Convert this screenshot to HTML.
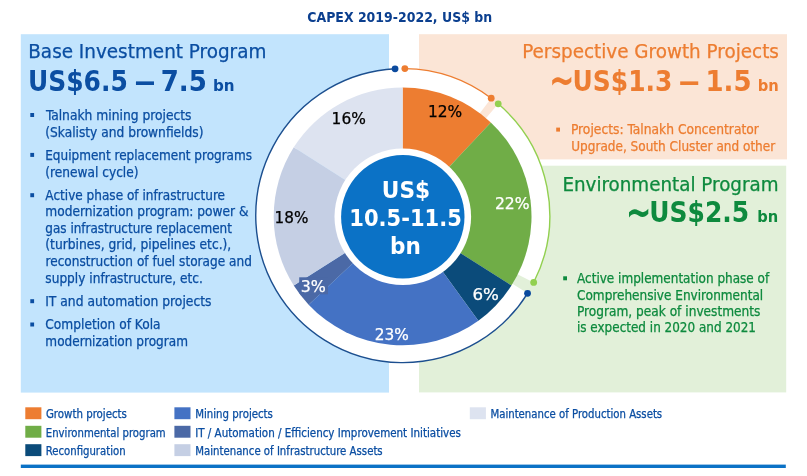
<!DOCTYPE html>
<html><head><meta charset="utf-8"><title>CAPEX 2019-2022</title>
<style>
html,body{margin:0;padding:0;background:#fff}
svg{display:block}
text{stroke-width:.25px}
text{font-family:"DejaVu Sans Condensed","DejaVu Sans","Liberation Sans",sans-serif;font-stretch:condensed;white-space:pre}
</style></head><body>
<svg width="807" height="476" viewBox="0 0 807 476">
<rect x="20.8" y="34.2" width="368.2" height="358.4" fill="#c2e4fd"/>
<rect x="419" y="34.2" width="368" height="125.2" fill="#fbe5d6"/>
<rect x="419" y="165.7" width="367.2" height="226.7" fill="#e2f0d9"/>
<path d="M395.06 68.80A147.0 147.0 0 0 1 491.22 98.20L477.92 115.85A124.9 124.9 0 0 0 396.21 90.87Z" fill="#fff"/>
<path d="M498.22 103.82A147.0 147.0 0 0 1 533.67 282.45L513.99 272.40A124.9 124.9 0 0 0 483.87 120.63Z" fill="#fff"/>
<path d="M527.55 293.28A147.0 147.0 0 1 1 395.06 68.80L396.21 90.87A124.9 124.9 0 1 0 508.79 281.60Z" fill="#fff"/>
<path d="M402.6 216.4L402.60 87.50A128.9 128.9 0 0 1 490.84 122.44Z" fill="#ed7d31"/>
<path d="M402.6 216.4L490.84 122.44A128.9 128.9 0 0 1 511.43 285.47Z" fill="#70ad47"/>
<path d="M402.6 216.4L511.43 285.47A128.9 128.9 0 0 1 478.37 320.68Z" fill="#0b4b7a"/>
<path d="M402.6 216.4L478.37 320.68A128.9 128.9 0 0 1 308.64 304.64Z" fill="#4472c4"/>
<path d="M402.6 216.4L308.64 304.64A128.9 128.9 0 0 1 293.77 285.47Z" fill="#4b69a6"/>
<path d="M402.6 216.4L293.77 285.47A128.9 128.9 0 0 1 293.77 147.33Z" fill="#c5cfe4"/>
<path d="M402.6 216.4L293.77 147.33A128.9 128.9 0 0 1 402.60 87.50Z" fill="#dde3f0"/>
<path d="M404.85 68.62A147.0 147.0 0 0 1 491.22 98.20" fill="none" stroke="#ed7d31" stroke-width="1.4"/>
<path d="M498.22 103.82A147.0 147.0 0 0 1 533.67 282.45" fill="none" stroke="#92d050" stroke-width="1.4"/>
<path d="M527.55 293.28A147.0 147.0 0 1 1 395.06 68.80" fill="none" stroke="#1c4f8f" stroke-width="1.4"/>
<circle cx="404.85" cy="68.62" r="3.4" fill="#ed7d31"/>
<circle cx="491.22" cy="98.20" r="3.4" fill="#ed7d31"/>
<circle cx="498.22" cy="103.82" r="3.4" fill="#92d050"/>
<circle cx="533.67" cy="282.45" r="3.4" fill="#92d050"/>
<circle cx="527.55" cy="293.28" r="3.4" fill="#0b4a9e"/>
<circle cx="395.06" cy="68.80" r="3.4" fill="#0b4a9e"/>
<circle cx="402.8" cy="216.8" r="68.3" fill="#fff"/>
<circle cx="402.8" cy="216.8" r="61.7" fill="#0b72c6"/>
<clipPath id="pc"><circle cx="402.6" cy="216.4" r="128.9"/></clipPath>
<rect x="299.2" y="277.3" width="28.8" height="17" fill="#4b69a6" clip-path="url(#pc)"/>
<rect x="30.3" y="113.0" width="3.8" height="4" fill="#0b4ea2"/>
<rect x="30.3" y="152.9" width="3.8" height="4" fill="#0b4ea2"/>
<rect x="30.3" y="193.2" width="3.8" height="4" fill="#0b4ea2"/>
<rect x="30.3" y="299.2" width="3.8" height="4" fill="#0b4ea2"/>
<rect x="30.3" y="322.5" width="3.8" height="4" fill="#0b4ea2"/>
<rect x="556.2" y="127.6" width="3.8" height="4" fill="#ed7d31"/>
<rect x="563.2" y="276.3" width="3.8" height="4" fill="#0e8a3e"/>
<rect x="25.3" y="407.3" width="16.1" height="11.9" fill="#ed7d31"/>
<rect x="25.3" y="425.8" width="16.1" height="11.9" fill="#70ad47"/>
<rect x="25.3" y="444.2" width="16.1" height="11.9" fill="#0b4b7a"/>
<rect x="174.4" y="407.3" width="16.1" height="11.9" fill="#4472c4"/>
<rect x="174.4" y="425.8" width="16.1" height="11.9" fill="#4b69a6"/>
<rect x="174.4" y="444.2" width="16.1" height="11.9" fill="#c5cfe4"/>
<rect x="469.8" y="407.3" width="16.1" height="11.9" fill="#dde3f0"/>
<rect x="20.8" y="464.6" width="765" height="3.4" fill="#0b72c6"/>
<text x="307.24" y="22.3" font-size="13.7" fill="#0b3f8f" font-weight="bold" textLength="184.95" lengthAdjust="spacingAndGlyphs">CAPEX 2019-2022, US$ bn</text>
<text x="381.85" y="198.2" font-size="23.5" fill="#fff" font-weight="bold" textLength="48.24" lengthAdjust="spacingAndGlyphs">US$</text>
<text x="349.31" y="225.9" font-size="23.5" fill="#fff" font-weight="bold" textLength="112.59" lengthAdjust="spacingAndGlyphs">10.5-11.5</text>
<text x="390.01" y="253.5" font-size="23.5" fill="#fff" font-weight="bold" textLength="30.82" lengthAdjust="spacingAndGlyphs">bn</text>
<text x="427.90" y="117.3" font-size="16" fill="#000" stroke="#000" textLength="34.21" lengthAdjust="spacingAndGlyphs">12%</text>
<text x="331.60" y="124.1" font-size="16" fill="#000" stroke="#000" textLength="34.21" lengthAdjust="spacingAndGlyphs">16%</text>
<text x="494.92" y="208.8" font-size="16" fill="#fff" stroke="#fff" textLength="34.70" lengthAdjust="spacingAndGlyphs">22%</text>
<text x="274.62" y="222.6" font-size="16" fill="#000" stroke="#000" textLength="33.77" lengthAdjust="spacingAndGlyphs">18%</text>
<text x="300.70" y="292" font-size="16" fill="#fff" stroke="#fff" textLength="25.13" lengthAdjust="spacingAndGlyphs">3%</text>
<text x="472.44" y="299.8" font-size="16" fill="#fff" stroke="#fff" textLength="26.43" lengthAdjust="spacingAndGlyphs">6%</text>
<text x="374.74" y="339.5" font-size="16" fill="#fff" stroke="#fff" textLength="34.06" lengthAdjust="spacingAndGlyphs">23%</text>
<text x="28.26" y="58.3" font-size="20" fill="#0b4ea2" stroke="#0b4ea2" textLength="238.07" lengthAdjust="spacingAndGlyphs">Base Investment Program</text>
<text x="28.04" y="90.5" font-size="27.6" fill="#0b4ea2" font-weight="bold" textLength="99.77" lengthAdjust="spacingAndGlyphs">US$6.5</text>
<text x="133.59" y="90.5" font-size="27.6" fill="#0b4ea2" font-weight="bold" textLength="22.93" lengthAdjust="spacingAndGlyphs">–</text>
<text x="160.77" y="90.5" font-size="27.6" fill="#0b4ea2" font-weight="bold" textLength="46.05" lengthAdjust="spacingAndGlyphs">7.5</text>
<text x="212.98" y="90.5" font-size="16" fill="#0b4ea2" font-weight="bold" textLength="21.63" lengthAdjust="spacingAndGlyphs">bn</text>
<text x="45.90" y="119.8" font-size="13.3" fill="#0b4ea2" stroke="#0b4ea2" textLength="145.59" lengthAdjust="spacingAndGlyphs">Talnakh mining projects</text>
<text x="45.28" y="136.5" font-size="13.3" fill="#0b4ea2" stroke="#0b4ea2" textLength="158.17" lengthAdjust="spacingAndGlyphs">(Skalisty and brownfields)</text>
<text x="45.24" y="159.7" font-size="13.3" fill="#0b4ea2" stroke="#0b4ea2" textLength="206.79" lengthAdjust="spacingAndGlyphs">Equipment replacement programs</text>
<text x="45.28" y="176.5" font-size="13.3" fill="#0b4ea2" stroke="#0b4ea2" textLength="93.28" lengthAdjust="spacingAndGlyphs">(renewal cycle)</text>
<text x="45.35" y="200.0" font-size="13.3" fill="#0b4ea2" stroke="#0b4ea2" textLength="179.69" lengthAdjust="spacingAndGlyphs">Active phase of infrastructure</text>
<text x="45.38" y="216.4" font-size="13.3" fill="#0b4ea2" stroke="#0b4ea2" textLength="203.10" lengthAdjust="spacingAndGlyphs">modernization program: power &amp;</text>
<text x="45.35" y="232.8" font-size="13.3" fill="#0b4ea2" stroke="#0b4ea2" textLength="186.50" lengthAdjust="spacingAndGlyphs">gas infrastructure replacement</text>
<text x="45.27" y="249.4" font-size="13.3" fill="#0b4ea2" stroke="#0b4ea2" textLength="186.00" lengthAdjust="spacingAndGlyphs">(turbines, grid, pipelines etc.),</text>
<text x="45.49" y="266.2" font-size="13.3" fill="#0b4ea2" stroke="#0b4ea2" textLength="206.36" lengthAdjust="spacingAndGlyphs">reconstruction of fuel storage and</text>
<text x="45.34" y="282.9" font-size="13.3" fill="#0b4ea2" stroke="#0b4ea2" textLength="157.53" lengthAdjust="spacingAndGlyphs">supply infrastructure, etc.</text>
<text x="45.21" y="306.0" font-size="13.3" fill="#0b4ea2" stroke="#0b4ea2" textLength="166.24" lengthAdjust="spacingAndGlyphs">IT and automation projects</text>
<text x="45.33" y="329.3" font-size="13.3" fill="#0b4ea2" stroke="#0b4ea2" textLength="115.24" lengthAdjust="spacingAndGlyphs">Completion of Kola</text>
<text x="45.39" y="346.2" font-size="13.3" fill="#0b4ea2" stroke="#0b4ea2" textLength="142.55" lengthAdjust="spacingAndGlyphs">modernization program</text>
<text x="522.21" y="58.2" font-size="20" fill="#ed7d31" stroke="#ed7d31" textLength="256.71" lengthAdjust="spacingAndGlyphs">Perspective Growth Projects</text>
<text x="549.05" y="95.2" font-size="43" fill="#ed7d31" font-weight="bold" textLength="25.54" lengthAdjust="spacingAndGlyphs">~</text>
<text x="572.54" y="90.5" font-size="27.6" fill="#ed7d31" font-weight="bold" textLength="99.82" lengthAdjust="spacingAndGlyphs">US$1.3</text>
<text x="677.69" y="90.5" font-size="27.6" fill="#ed7d31" font-weight="bold" textLength="22.93" lengthAdjust="spacingAndGlyphs">–</text>
<text x="705.52" y="90.5" font-size="27.6" fill="#ed7d31" font-weight="bold" textLength="45.99" lengthAdjust="spacingAndGlyphs">1.5</text>
<text x="757.72" y="90.5" font-size="16" fill="#ed7d31" font-weight="bold" textLength="21.07" lengthAdjust="spacingAndGlyphs">bn</text>
<text x="570.91" y="134.3" font-size="13.3" fill="#ed7d31" stroke="#ed7d31" textLength="187.94" lengthAdjust="spacingAndGlyphs">Projects: Talnakh Concentrator</text>
<text x="571.19" y="150.6" font-size="13.3" fill="#ed7d31" stroke="#ed7d31" textLength="204.03" lengthAdjust="spacingAndGlyphs">Upgrade, South Cluster and other</text>
<text x="562.42" y="190.5" font-size="20" fill="#0e8a3e" stroke="#0e8a3e" textLength="216.13" lengthAdjust="spacingAndGlyphs">Environmental Program</text>
<text x="625.72" y="226.6" font-size="43" fill="#0e8a3e" font-weight="bold" textLength="25.80" lengthAdjust="spacingAndGlyphs">~</text>
<text x="649.34" y="221.9" font-size="27.6" fill="#0e8a3e" font-weight="bold" textLength="99.77" lengthAdjust="spacingAndGlyphs">US$2.5</text>
<text x="757.23" y="221.9" font-size="16" fill="#0e8a3e" font-weight="bold" textLength="20.96" lengthAdjust="spacingAndGlyphs">bn</text>
<text x="577.05" y="283.1" font-size="13.3" fill="#0e8a3e" stroke="#0e8a3e" textLength="192.15" lengthAdjust="spacingAndGlyphs">Active implementation phase of</text>
<text x="577.04" y="299.5" font-size="13.3" fill="#0e8a3e" stroke="#0e8a3e" textLength="186.17" lengthAdjust="spacingAndGlyphs">Comprehensive Environmental</text>
<text x="576.93" y="315.9" font-size="13.3" fill="#0e8a3e" stroke="#0e8a3e" textLength="183.53" lengthAdjust="spacingAndGlyphs">Program, peak of investments</text>
<text x="576.94" y="332.3" font-size="13.3" fill="#0e8a3e" stroke="#0e8a3e" textLength="179.04" lengthAdjust="spacingAndGlyphs">is expected in 2020 and 2021</text>
<text x="45.90" y="418.0" font-size="11.4" fill="#0b4ea2" stroke="#0b4ea2" textLength="81.05" lengthAdjust="spacingAndGlyphs">Growth projects</text>
<text x="45.81" y="436.5" font-size="11.4" fill="#0b4ea2" stroke="#0b4ea2" textLength="119.89" lengthAdjust="spacingAndGlyphs">Environmental program</text>
<text x="45.81" y="454.9" font-size="11.4" fill="#0b4ea2" stroke="#0b4ea2" textLength="79.78" lengthAdjust="spacingAndGlyphs">Reconfiguration</text>
<text x="195.21" y="418.0" font-size="11.4" fill="#0b4ea2" stroke="#0b4ea2" textLength="77.71" lengthAdjust="spacingAndGlyphs">Mining projects</text>
<text x="195.19" y="436.5" font-size="11.4" fill="#0b4ea2" stroke="#0b4ea2" textLength="265.71" lengthAdjust="spacingAndGlyphs">IT / Automation / Efficiency Improvement Initiatives</text>
<text x="195.21" y="454.9" font-size="11.4" fill="#0b4ea2" stroke="#0b4ea2" textLength="187.46" lengthAdjust="spacingAndGlyphs">Maintenance of Infrastructure Assets</text>
<text x="490.41" y="418.0" font-size="11.4" fill="#0b4ea2" stroke="#0b4ea2" textLength="171.75" lengthAdjust="spacingAndGlyphs">Maintenance of Production Assets</text>
</svg>
</body></html>
